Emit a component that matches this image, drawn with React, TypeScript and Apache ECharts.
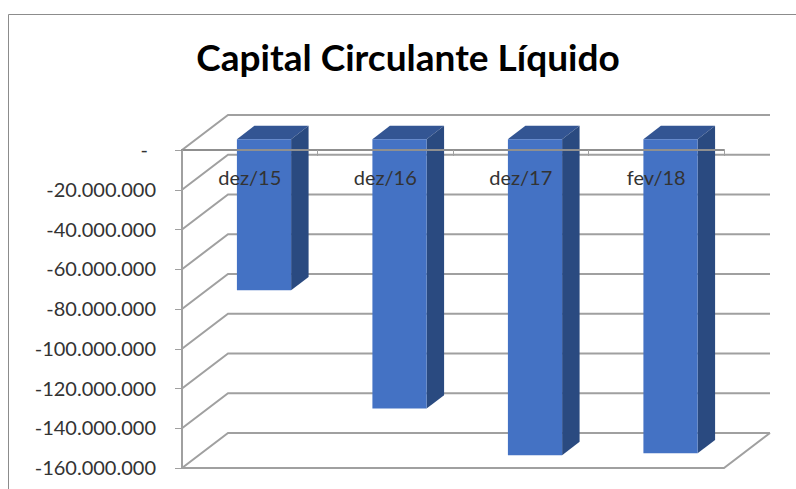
import React, { useEffect, useRef } from "react";
import * as echarts from "echarts";

const categories = ["dez/15", "dez/16", "dez/17", "fev/18"];
const values = [-76000000, -135500000, -159000000, -158000000];
const gridValues = [0, -20000000, -40000000, -60000000, -80000000, -100000000, -120000000, -140000000, -160000000];

const DEPTH_X = 46;
const DEPTH_Y = 35;
const BAR_NEAR = 0.31;
const BAR_FAR = 0.69;
const BAR_WIDTH = 0.4;
const LINE = "#a0a0a0";
const FRONT = "#4472c4";
const TOP = "#335593";
const SIDE = "#2a4a80";

function formatValue(v: number) {
  if (v === 0) return "{dash|-}";
  return "-" + String(Math.abs(v)).replace(/\B(?=(\d{3})+$)/g, ".");
}

export default function App() {
  const ref = useRef<HTMLDivElement>(null);
  useEffect(() => {
    document.body.style.margin = "0";
    const chart = echarts.init(ref.current!, undefined, { renderer: "svg" });
    chart.setOption({
      animation: false,
      backgroundColor: "#ffffff",
      title: {
        text: "Capital Circulante Líquido",
        left: 403,
        top: 33,
        textAlign: "center",
        textStyle: { fontFamily: "Lato", fontWeight: "bold", fontSize: 37, color: "#000000" },
      },
      graphic: [
        {
          type: "polyline",
          z: -1,
          shape: { points: [[8.5, 489], [8.5, 14.5], [796, 14.5]] },
          style: { fill: "none", stroke: "#8c8c8c", lineWidth: 1 },
        },
      ],
      grid: { left: 182, top: 150, width: 542, height: 318, containLabel: false },
      xAxis: {
        type: "category",
        data: categories,
        position: "top",
        z: 5,
        axisLine: { show: true, onZero: false, lineStyle: { color: "#8f8f8f", width: 2 } },
        axisTick: { show: true, inside: true, length: 6, alignWithLabel: false, lineStyle: { color: LINE } },
        axisLabel: {
          inside: true,
          margin: 27,
          fontFamily: "Lato",
          fontSize: 20,
          color: "#333333",
          verticalAlign: "middle",
        },
        splitLine: { show: false },
      },
      yAxis: {
        type: "value",
        min: -160000000,
        max: 0,
        interval: 20000000,
        z: 3,
        axisLine: { show: true, lineStyle: { color: LINE, width: 2 } },
        axisTick: { show: true, length: 7, lineStyle: { color: LINE } },
        axisLabel: {
          margin: 26,
          fontFamily: "Lato",
          fontSize: 20,
          color: "#333333",
          padding: [0, 0, 2, 0],
          formatter: formatValue,
          rich: {
            dash: { fontFamily: "Lato", fontSize: 20, color: "#333333", padding: [0, 8, 0, 0] },
          },
        },
        splitLine: { show: false },
      },
      series: [
        {
          type: "custom",
          z: 1,
          silent: true,
          data: gridValues.map((v) => [0, v]),
          encode: { x: 0, y: 1 },
          clip: false,
          renderItem: (_p: any, api: any) => {
            const v = api.value(1);
            const [x0, y] = api.coord([0, v]);
            const band = api.size([1, 0])[0];
            const left = x0 - band / 2;
            const right = left + band * categories.length;
            const style = { stroke: LINE, lineWidth: 2, fill: "none" };
            const children: any[] = [
              { type: "polyline", shape: { points: [[left, y], [left + DEPTH_X, y - DEPTH_Y], [right + DEPTH_X, y - DEPTH_Y]] }, style },
            ];
            if (v === gridValues[gridValues.length - 1]) {
              children.push({
                type: "polyline",
                shape: { points: [[left, y], [right, y], [right + DEPTH_X, y - DEPTH_Y]] },
                style,
              });
            }
            return { type: "group", children };
          },
        },
        {
          type: "custom",
          z: 2,
          silent: true,
          data: values.map((v, i) => [i, v]),
          encode: { x: 0, y: 1 },
          clip: false,
          renderItem: (_p: any, api: any) => {
            const i = api.value(0);
            const [cx, yZero] = api.coord([i, 0]);
            const [, yEnd] = api.coord([i, api.value(1)]);
            const band = api.size([1, 0])[0];
            const w = band * BAR_WIDTH;
            const nx = DEPTH_X * BAR_NEAR;
            const ny = DEPTH_Y * BAR_NEAR;
            const fx = DEPTH_X * BAR_FAR;
            const fy = DEPTH_Y * BAR_FAR;
            const x1 = cx - w / 2;
            const x2 = cx + w / 2;
            const poly = (points: number[][], fill: string) => ({ type: "polygon", shape: { points }, style: { fill } });
            return {
              type: "group",
              children: [
                poly([[x1 + nx, yZero - ny], [x1 + fx, yZero - fy], [x2 + fx, yZero - fy], [x2 + nx, yZero - ny]], TOP),
                poly([[x2 + nx, yZero - ny], [x2 + fx, yZero - fy], [x2 + fx, yEnd - fy], [x2 + nx, yEnd - ny]], SIDE),
                poly([[x1 + nx, yZero - ny], [x2 + nx, yZero - ny], [x2 + nx, yEnd - ny], [x1 + nx, yEnd - ny]], FRONT),
              ],
            };
          },
        },
      ],
    });
    return () => chart.dispose();
  }, []);
  return <div ref={ref} style={{ position: "absolute", left: 0, top: 0, width: 796, height: 489 }} />;
}
